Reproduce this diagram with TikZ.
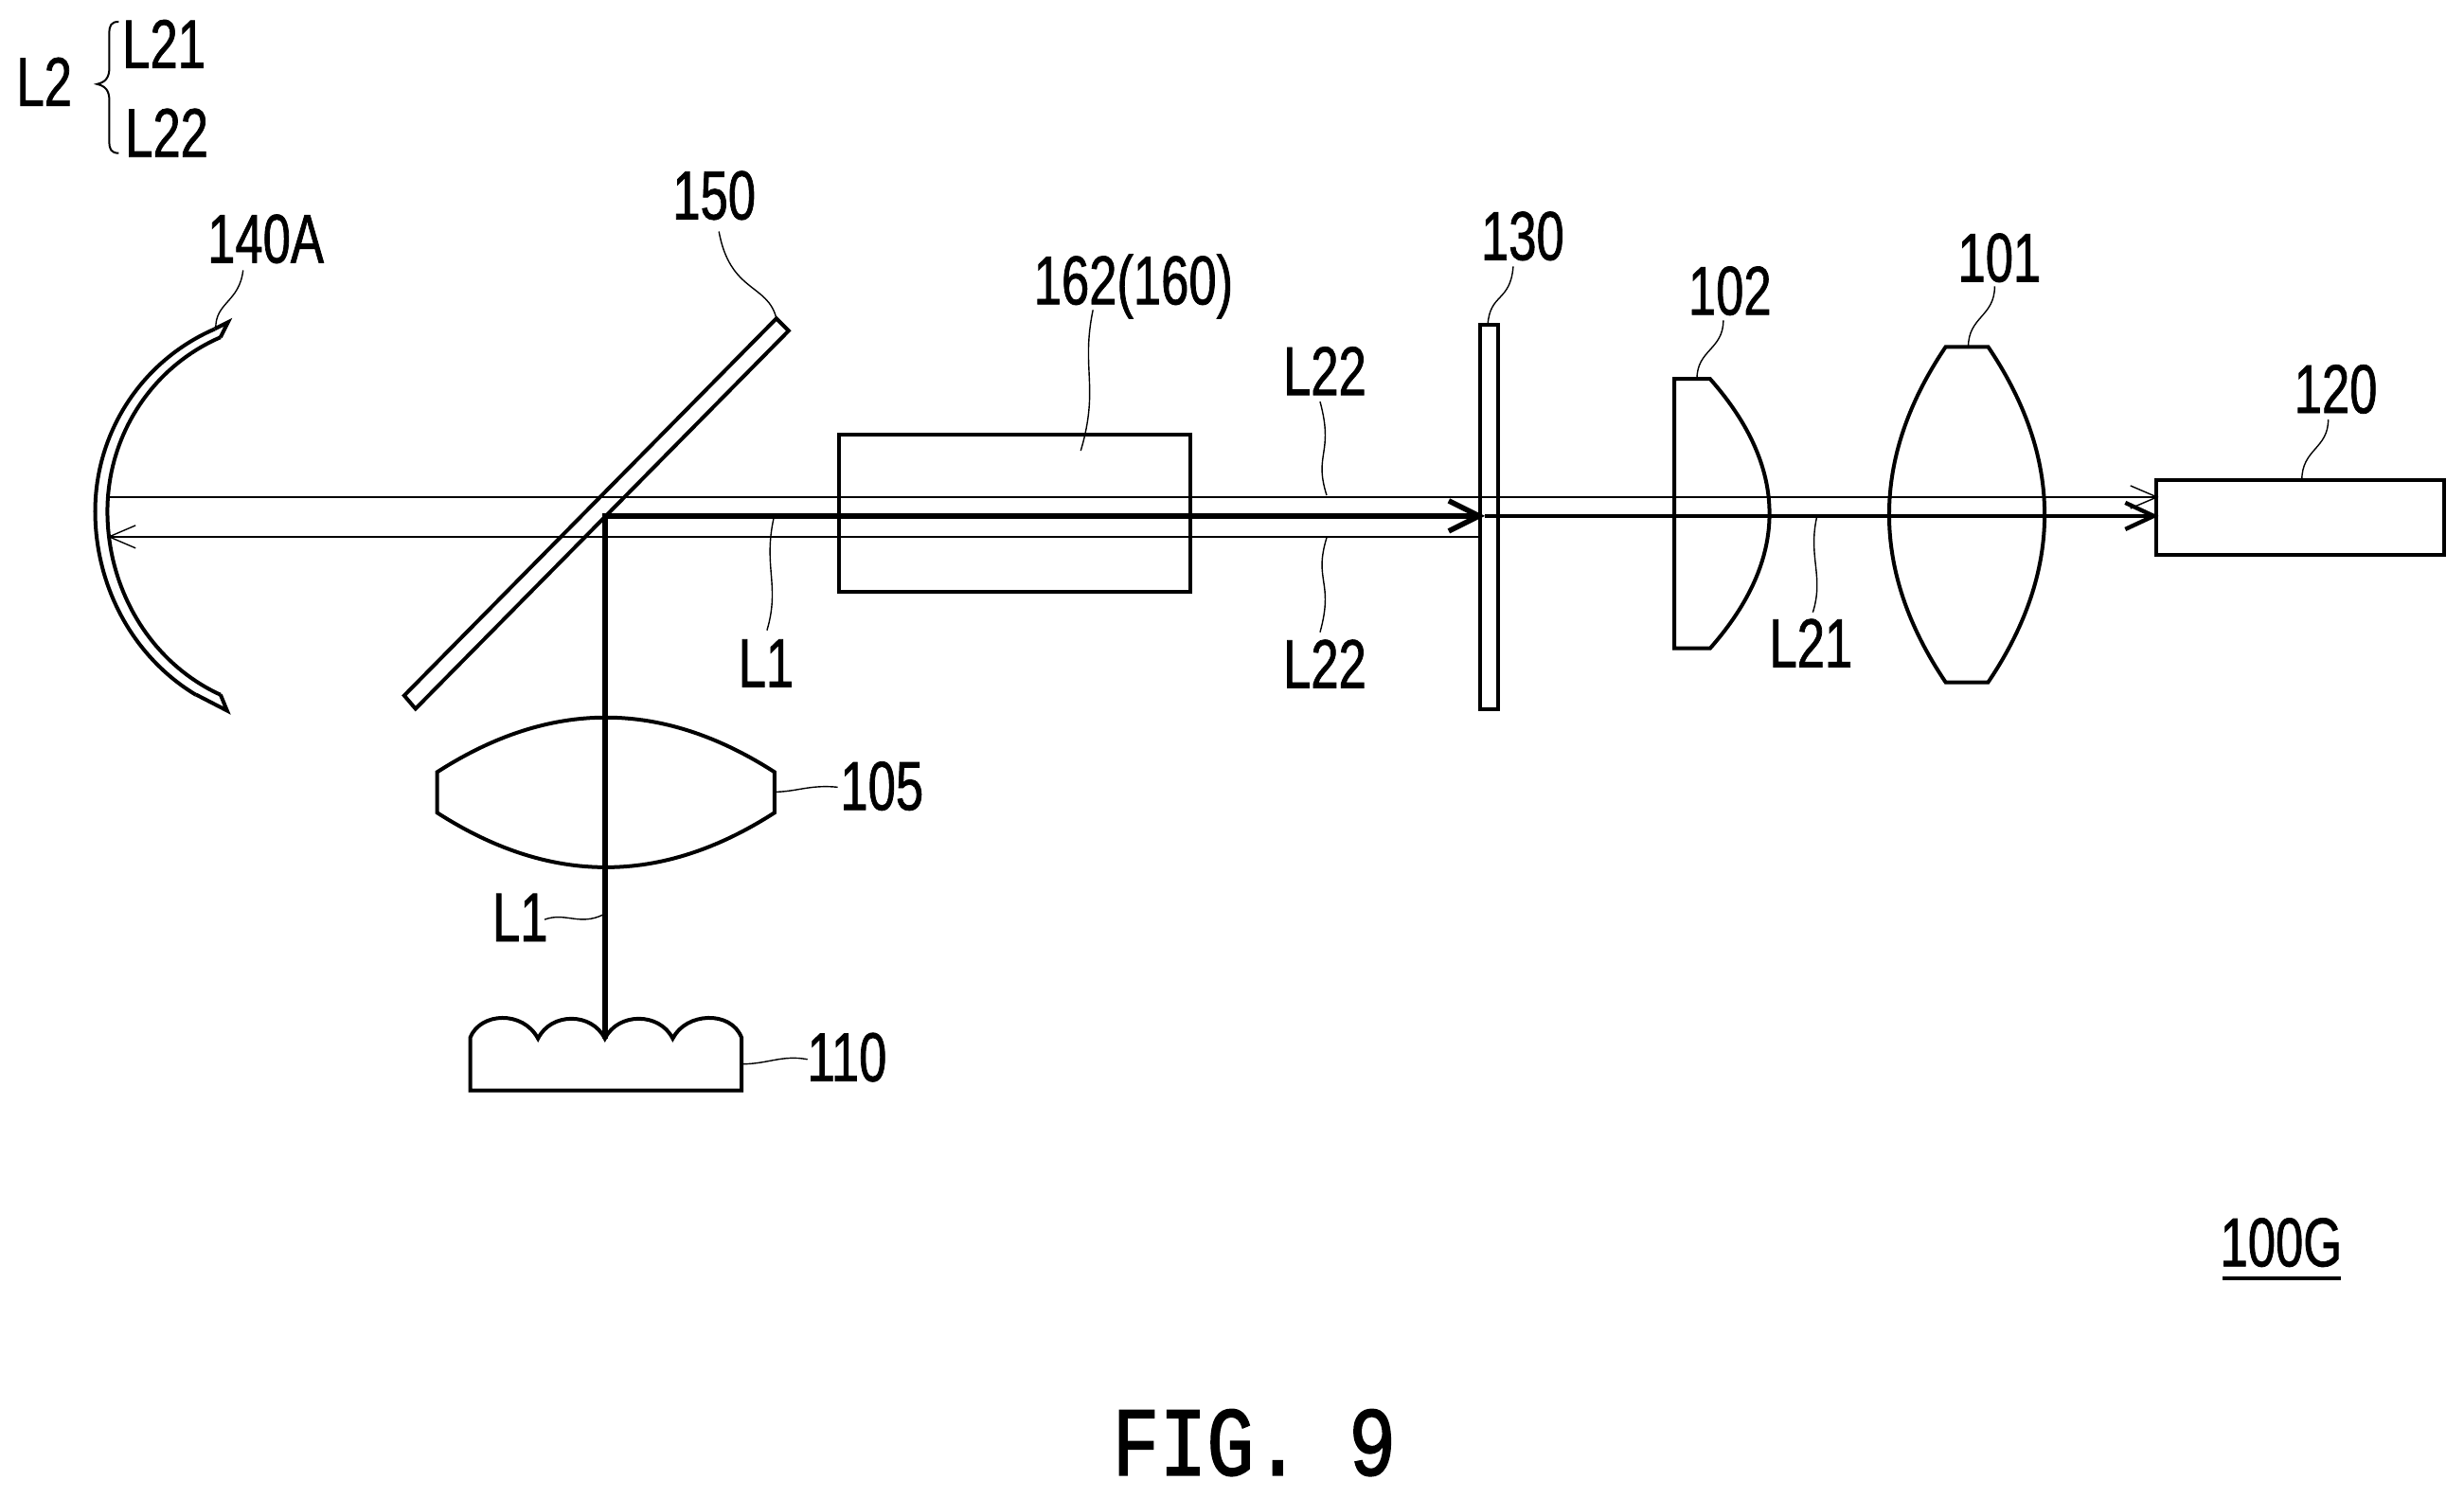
\documentclass[tikz,border=0pt]{standalone}
\usepackage{fontspec}
\usetikzlibrary{arrows.meta}
\newfontfamily\lblfont[FakeStretch=0.72,FakeBold=1]{Liberation Sans}
\newfontfamily\figfont[FakeStretch=0.8,FakeBold=1.5]{Liberation Mono}
\tikzset{
  x=0.4975pt,y=-0.499pt,
  lbl/.style={inner sep=0,anchor=base,font=\lblfont\fontsize{36.5}{36.5}\selectfont},
  optic/.style={line width=2pt,line join=miter},
  leader/.style={line width=0.7pt},
  thinbeam/.style={line width=1.2pt},
  barbthin/.style={-{Straight Barb[length=14pt,width=12pt,line width=0.7pt]}},
  heavybeam/.style={line width=2.8pt},
  midbeam/.style={line width=2.2pt,-{Straight Barb[length=15pt,width=14pt,line width=2.2pt]}},
}
\begin{document}
\begin{tikzpicture}
\useasboundingbox (0,0) rectangle (2615.1,1585.2);
% optical parts
\draw[optic] (228,348) -- (242,341) -- (234,357);
\draw[optic] plot[domain=246.7:180,samples=40] ({311+210*cos(\x)},{541+210*sin(\x)});
\draw[optic] plot[domain=180:119.4,samples=40] ({311+210*cos(\x)},{541+223*sin(\x)});
\draw[optic] plot[domain=247:180,samples=40] ({311+197*cos(\x)},{541+200*sin(\x)});
\draw[optic] plot[domain=180:113,samples=40] ({311+197*cos(\x)},{541+211*sin(\x)});
\draw[optic] (208,735) -- (241,752) -- (234,735);
\draw[optic] (824,337) -- (837,350) -- (441,750) -- (429,736) -- cycle;
\draw[optic] (464,817) .. controls (584,740) and (702,740) .. (822,817) -- (822,860) .. controls (702,937) and (584,937) .. (464,860) -- cycle;
\draw[optic] (499,1154) -- (499,1098) .. controls (510,1071) and (555,1069) .. (571,1099) .. controls (585,1071) and (628,1071) .. (642,1099) .. controls (656,1071) and (700,1071) .. (714,1099) .. controls (728,1071) and (776,1069) .. (787,1098) -- (787,1154) -- cycle;
\draw[optic] (890,460) rectangle (1263,626);
\draw[optic] (1571,344) rectangle (1590,751);
\draw[optic] (1815,401) .. controls (1899,496) and (1899,591) .. (1815,686) -- (1777,686) -- (1777,401) -- cycle;
\draw[optic] (2065,367) .. controls (1985,485) and (1985,604) .. (2065,722) -- (2110,722) .. controls (2190,604) and (2190,485) .. (2110,367) -- cycle;
\draw[optic] (2288,508) rectangle (2594,587);
% beams
\coordinate (src) at (642,1099);
\coordinate (corner) at (642,546);
\coordinate (plateIn) at (1576,546);
\coordinate (det) at (2291,546);
\coordinate (detU) at (2291,526);
\coordinate (mirU) at (114,526);
\coordinate (plateL) at (1571,568);
\coordinate (mirL) at (114,568);
\draw[thinbeam,barbthin] (mirU) -- (detU);
\draw[thinbeam,barbthin] (plateL) -- (mirL);
\draw[heavybeam,-{Straight Barb[length=16pt,width=16pt,line width=2.8pt]}] (src) -- (corner) -- (plateIn);
\draw[midbeam] (plateIn) -- (det);
% brace
\draw[line width=1pt] (126,23) .. controls (118,23) and (116,27) .. (116,35) -- (116,72) .. controls (116,82) and (112,87) .. (103,89) .. controls (112,91) and (116,96) .. (116,106) -- (116,150) .. controls (116,158) and (118,162) .. (126,162);
% labels
\node[lbl] (tL2) at (47,112) {L2};
\node[lbl] (tL21) at (174,72) {L21};
\node[lbl] (tL22) at (177,166) {L22};
\node[lbl] (t140) at (282,278) {140A};
\node[lbl] (t150) at (758,232) {150};
\node[lbl] (t162) at (1203,322) {162(160)};
\node[lbl] (tu22) at (1406,418) {L22};
\node[lbl] (tl22) at (1406,728) {L22};
\node[lbl] (t130) at (1616,275) {130};
\node[lbl] (t102) at (1836,333) {102};
\node[lbl] (t101) at (2122,298) {101};
\node[lbl] (t120) at (2479,437) {120};
\node[lbl] (tL1a) at (813,727) {L1};
\node[lbl] (tL21b) at (1922,706) {L21};
\node[lbl] (t105) at (936,857) {105};
\node[lbl] (tL1b) at (552,996) {L1};
\node[lbl] (t110) at (899,1144) {110};
\node[lbl] (t100) at (2421,1340) {100G};
\draw[line width=1.9pt] (2359,1353) -- (2484,1353);
\node[inner sep=0,anchor=base,font=\figfont\fontsize{52}{52}\selectfont] (tfig) at (1331,1561) {FIG. 9};
% leaders
\draw[leader] (258,286) .. controls (254,320) and (228,320) .. (229,348);
\draw[leader] (763,245) .. controls (775,310) and (815,300) .. (824,337);
\draw[leader] (1160,328) .. controls (1147,390) and (1167,410) .. (1147,477);
\draw[leader] (1401,425) .. controls (1416,480) and (1394,480) .. (1408,524);
\draw[leader] (1401,669) .. controls (1416,615) and (1394,615) .. (1408,569);
\draw[leader] (1606,282) .. controls (1603,320) and (1581,310) .. (1579,344);
\draw[leader] (1829,339) .. controls (1829,370) and (1801,370) .. (1801,401);
\draw[leader] (2117,303) .. controls (2117,335) and (2089,335) .. (2089,367);
\draw[leader] (2471,444) .. controls (2471,475) and (2443,475) .. (2443,508);
\draw[leader] (821,549) .. controls (810,600) and (828,620) .. (814,667);
\draw[leader] (1928,548) .. controls (1919,590) and (1936,610) .. (1924,648);
\draw[leader] (822,838) .. controls (845,838) and (860,830) .. (889,833);
\draw[leader] (787,1126) .. controls (815,1126) and (830,1116) .. (857,1121);
\draw[leader] (578,973) .. controls (600,965) and (615,980) .. (640,968);
\end{tikzpicture}
\end{document}
